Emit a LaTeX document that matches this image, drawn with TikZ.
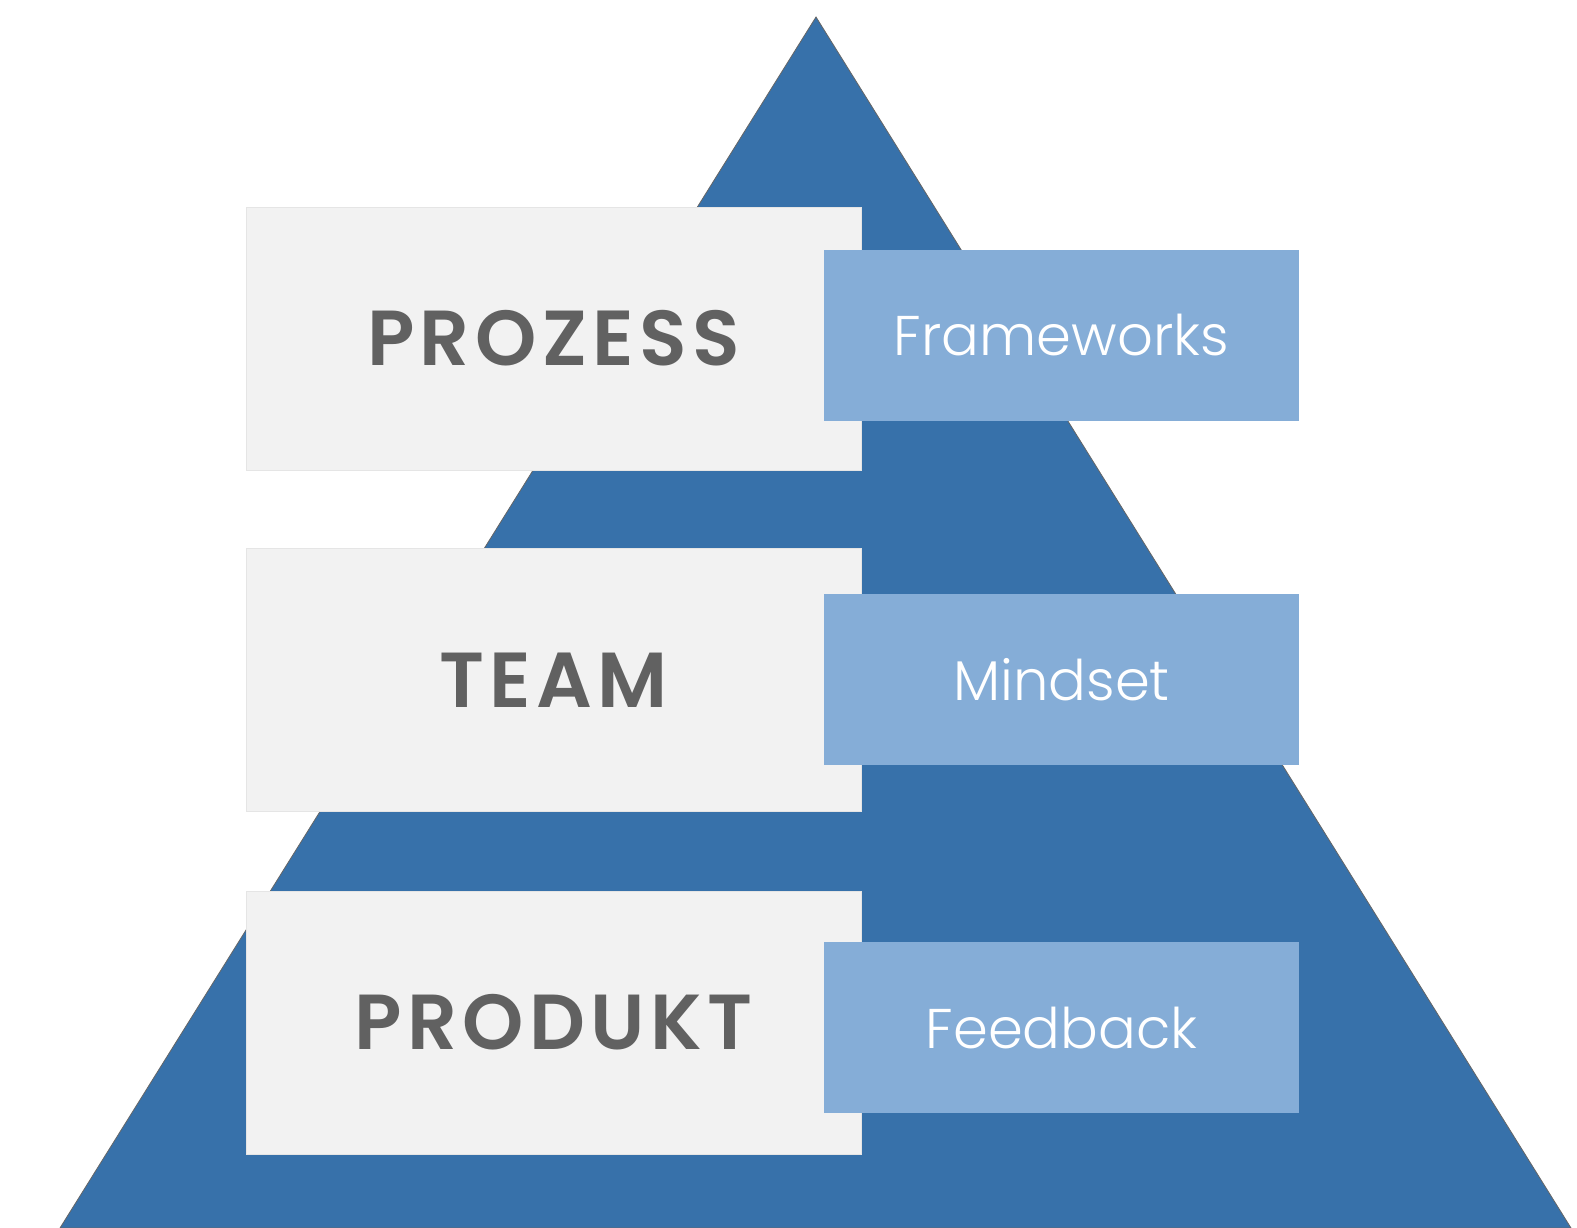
\documentclass[tikz,border=0pt]{standalone}
\usepackage{fontspec}
\setmainfont{Poppins}
\newfontfamily\lightfont{Poppins Light}
\newfontfamily\capsfont{Poppins SemiBold}[LetterSpace=7]
\usepackage{tikz}
\usetikzlibrary{positioning}
\usepackage{xcolor}
\definecolor{pyrblue}{HTML}{3771AA}
\definecolor{tagblue}{HTML}{85ADD7}
\definecolor{layergray}{HTML}{F2F2F2}
\definecolor{textgray}{HTML}{616161}

\begin{document}
\begin{tikzpicture}[x=1pt,y=-1pt]
    \tikzstyle{layer} = [draw=gray!20,fill=layergray,rectangle,inner sep=0pt,minimum width=615pt,minimum height=263pt,text=textgray,font=\fontsize{78}{90}\capsfont]
    \tikzstyle{tag} = [fill=tagblue,rectangle,inner sep=0pt,minimum width=475pt,minimum height=171pt,text=white,font=\fontsize{56}{66}\lightfont]
    \useasboundingbox (0,0) rectangle (1577,1228);
    % pyramid
    \coordinate (apex) at (816,17);
    \coordinate (baseL) at (60,1228);
    \coordinate (baseR) at (1571,1228);
    \fill[pyrblue,draw=gray!80!black,line width=0.8pt] (apex) -- (baseR) -- (baseL) -- cycle;
    % layers
    \node[layer] (prozess) at (553.5,338.5) {PROZESS};
    \node[layer] (team) [below = 78pt of prozess] {TEAM};
    \node[layer] (produkt) [below = 79pt of team] {PRODUKT};
    \node[tag] (frameworks) at (1061.5,335.5) {Frameworks};
    \node[tag] (mindset) at (1061.5,679.5) {Mindset};
    \node[tag] (feedback) at (1061.5,1027.5) {Feedback};
\end{tikzpicture}
\end{document}
